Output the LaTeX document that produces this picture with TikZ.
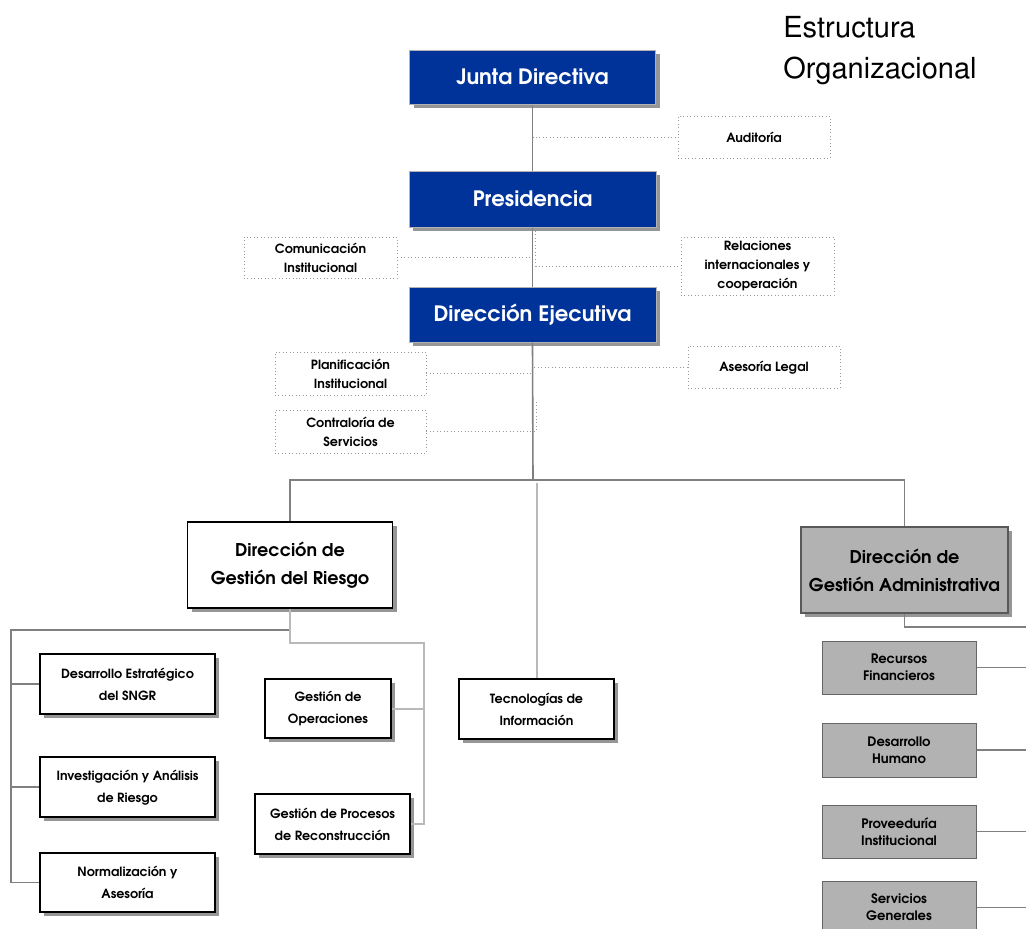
\documentclass[tikz,border=0pt]{standalone}
\usepackage[T1]{fontenc}
\usepackage{graphicx}
\usetikzlibrary{shadows}
\definecolor{dblue}{RGB}{0,51,153}
\definecolor{lgrey}{RGB}{178,178,178}
\definecolor{lineg}{RGB}{128,128,128}
\definecolor{shad}{RGB}{150,150,150}
\newcommand{\cgfont}{\fontfamily{pag}\fontseries{db}\selectfont}
\newcommand{\ttlfont}{\fontfamily{phv}\fontseries{m}\fontsize{21.75}{30}\selectfont}
\tikzset{
  w/.style={minimum width=#1*0.75pt},
  h/.style={minimum height=#1*0.75pt},
  shd/.style={drop shadow={shadow xshift=3pt,shadow yshift=-3pt,fill=shad,opacity=1}},
  base/.style={inner sep=0pt, align=center},
  bluebox/.style={base, fill=dblue, draw=gray!60, line width=0.75pt, text=white, shd,
    font=\cgfont\fontsize{15.9}{19}\selectfont},
  bigwhite/.style={base, fill=white, draw=black, line width=1pt, shd,
    font=\cgfont\fontsize{13.2}{20.5}\selectfont},
  biggrey/.style={base, fill=lgrey, draw=gray!70!black, line width=1pt, shd,
    font=\cgfont\fontsize{13.2}{20.5}\selectfont},
  whitebox/.style={base, fill=white, draw=black, line width=1pt, shd,
    font=\cgfont\fontsize{9.5}{16.5}\selectfont},
  greybox/.style={base, fill=lgrey, draw=gray!80!black, line width=0.75pt,
    font=\cgfont\fontsize{9.8}{12.75}\selectfont},
  dotbox/.style={base, draw=gray!80, dotted, line width=0.6pt,
    font=\cgfont\fontsize{9.5}{14.5}\selectfont},
  conn/.style={draw=lineg, line width=1.2pt},
  lconn/.style={draw=gray!55, line width=1.5pt},
  dconn/.style={draw=gray!80, dotted, line width=0.6pt},
}
\begin{document}
\begin{tikzpicture}[x=0.75pt,y=-0.75pt]
\useasboundingbox[fill=white] (0,0) rectangle (1026,929);

% title
\node[anchor=base west, inner sep=0pt, font=\ttlfont] (t1) at (783,37) {Estructura};
\node[anchor=base west, inner sep=0pt, font=\ttlfont] (t2) at (783,78) {Organizacional};

\coordinate (bus) at (533,480);
\coordinate (tecTop) at (536.5,483);
\coordinate (rl) at (11,630);
\coordinate (rr) at (424,643);
\coordinate (ar) at (1027,627);
\coordinate (cv) at (536,400);

% nodes
\node[bluebox, w=246, h=54] (junta) at (532.5,77) {Junta Directiva};
\node[bluebox, w=247, h=56] (pres) at (532.5,199) {Presidencia};
\node[bluebox, w=247, h=55] (dirEj) at (532.5,314.5) {Direcci\'on Ejecutiva};

\node[dotbox, w=152, h=42] (audit) at (754,137) {Auditor\'{\i}a};
\node[dotbox, w=153, h=41] (comun) at (320.5,257.5) {Comunicaci\'on\\Institucional};
\node[dotbox, w=153, h=58] (relac) at (757.5,266) {Relaciones\\internacionales y\\cooperaci\'on};
\node[dotbox, w=151, h=43] (planif) at (350.5,373.5) {Planificaci\'on\\Institucional};
\node[dotbox, w=152, h=42] (aseso) at (764,367) {Asesor\'{\i}a Legal};
\node[dotbox, w=151, h=43] (contral) at (350.5,431.5) {Contralor\'{\i}a de\\Servicios};

\node[bigwhite, w=205, h=86] (riesgo) at (290,565) {Direcci\'on de\\Gesti\'on del Riesgo};
\node[biggrey, w=207, h=86] (admin) at (904.5,570) {Direcci\'on de\\Gesti\'on Administrativa};

\node[whitebox, w=175, h=60] (desest) at (127.5,684) {Desarrollo Estrat\'egico\\del SNGR};
\node[whitebox, w=175, h=60] (invest) at (127.5,787) {Investigaci\'on y An\'alisis\\de Riesgo};
\node[whitebox, w=175, h=59] (normal) at (127.5,882.5) {Normalizaci\'on y\\Asesor\'{\i}a};
\node[whitebox, w=126, h=59] (gestop) at (328,708.5) {Gesti\'on de\\Operaciones};
\node[whitebox, w=155, h=60] (gestproc) at (332.5,824) {Gesti\'on de Procesos\\de Reconstrucci\'on};
\node[whitebox, w=155, h=60] (tecno) at (536.5,709) {Tecnolog\'{\i}as de\\Informaci\'on};

\node[greybox, w=154, h=53] (recfin) at (899,667.5) {Recursos\\Financieros};
\node[greybox, w=154, h=54] (deshum) at (899,750) {Desarrollo\\Humano};
\node[greybox, w=154, h=53] (prov) at (899,831.5) {Proveedur\'{\i}a\\Institucional};
\node[greybox, w=154, h=53] (serv) at (899,907.5) {Servicios\\Generales};

% solid trunk
\draw[conn] (junta.south) -- (pres.north);
\draw[conn] (pres.south) -- (dirEj.north);
\draw[conn] (dirEj.south) -- (bus);
\draw[conn] (bus) -| (riesgo.north);
\draw[conn] (bus) -| (admin.north);
\draw[lconn] (tecTop) -- (tecno.north);

% dotted staff links
\draw[dconn] (junta.south |- audit.west) -- (audit.west);
\draw[dconn] (comun.east) -- (comun.east -| pres.south);
\draw[dconn] ([xshift=2.25pt]pres.south) |- (relac.west);
\draw[dconn] (planif.east) -- (planif.east -| dirEj.south);
\draw[dconn] (aseso.west) -- (aseso.west -| dirEj.south);
\draw[dconn] (contral.east) -| (cv);

% Gestion del Riesgo branches
\draw[conn] (riesgo.south) |- (rl) -- (rl |- normal.west) -- (normal.west);
\draw[conn] (rl |- desest.west) -- (desest.west);
\draw[conn] (rl |- invest.west) -- (invest.west);
\draw[lconn] (riesgo.south) |- (rr) |- (gestproc.east);
\draw[lconn] (gestop.east) -- (gestop.east -| rr);

% Gestion Administrativa branches
\draw[conn] (admin.south) |- (ar) -- (ar |- serv.east);
\draw[conn] (recfin.east) -- (recfin.east -| ar);
\draw[conn] (deshum.east) -- (deshum.east -| ar);
\draw[conn] (prov.east) -- (prov.east -| ar);
\draw[conn] (serv.east) -- (serv.east -| ar);
\end{tikzpicture}
\end{document}
